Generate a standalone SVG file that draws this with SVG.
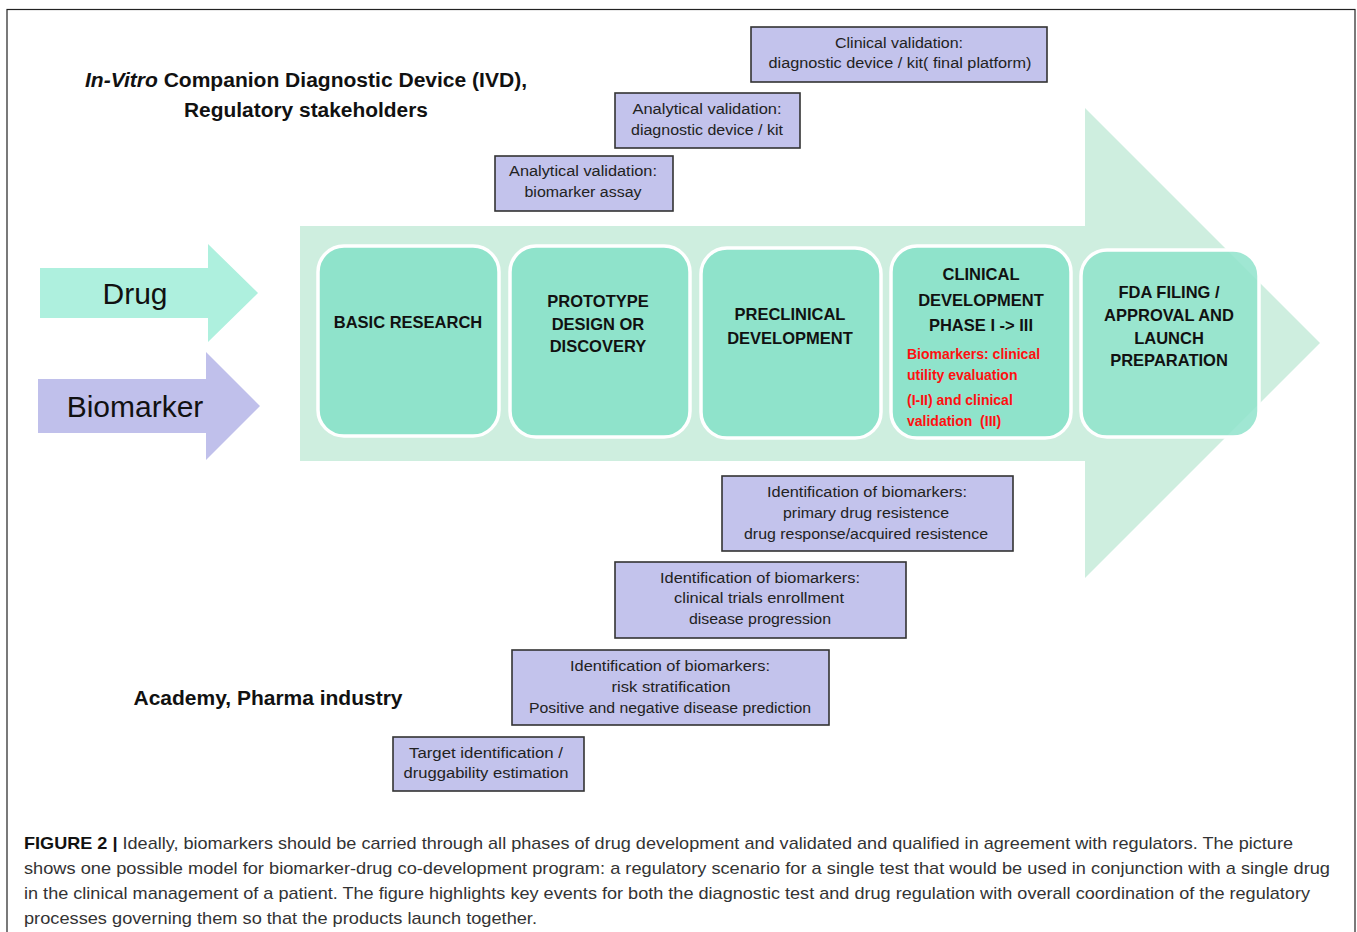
<svg xmlns="http://www.w3.org/2000/svg" width="1357" height="932" viewBox="0 0 1357 932">
<style>
.frame{fill:#fff;stroke:#222;stroke-width:1.2}
.stage{fill:#8fe3cb;stroke:#fff;stroke-width:3.5}
.pbox{fill:#c3c3ec;stroke:#333;stroke-width:1.6}
.pt{font-family:"Liberation Sans",Arial,sans-serif;font-size:14px;fill:#222;text-anchor:middle}
.st{font-family:"Liberation Sans",Arial,sans-serif;font-size:16.5px;font-weight:bold;fill:#111;text-anchor:middle}
.rt{font-family:"Liberation Sans",Arial,sans-serif;font-size:14px;font-weight:bold;fill:#ff1010}
.hd{font-family:"Liberation Sans",Arial,sans-serif;font-size:20px;font-weight:bold;fill:#111;text-anchor:middle}
.big{font-family:"Liberation Sans",Arial,sans-serif;font-size:30px;fill:#111;text-anchor:middle}
.cap{font-family:"Liberation Sans",Arial,sans-serif;font-size:17px;fill:#333}
</style>
<rect class="frame" x="7" y="9.5" width="1348" height="940"/>
<g id="connectors">
<path id="main-arrow" d="M300,226 H1085 V108 L1320,343 L1085,578 V461 H300 Z" fill="#ceeedf"/>
<path id="drug-arrow" d="M40,268 H208 V244 L258,293 L208,342 V318 H40 Z" fill="#aef0de"/>
<path id="biomarker-arrow" d="M38,379 H206 V352 L260,406 L206,460 V433 H38 Z" fill="#c0c0eb"/>
</g>
<g id="label-drug"><text class="big" x="135" y="304">Drug</text></g>
<g id="label-biomarker"><text class="big" x="135" y="417">Biomarker</text></g>
<g id="heading-ivd">
<text class="hd" x="306" y="87" textLength="442" lengthAdjust="spacingAndGlyphs"><tspan font-style="italic">In-Vitro</tspan> Companion Diagnostic Device (IVD),</text>
<text class="hd" x="306" y="117" textLength="244" lengthAdjust="spacingAndGlyphs">Regulatory stakeholders</text>
</g>
<g id="heading-academy">
<text class="hd" x="268" y="705" textLength="269" lengthAdjust="spacingAndGlyphs">Academy, Pharma industry</text>
</g>
<g id="stage-basic">
<rect class="stage" x="318" y="246" width="181" height="190" rx="26"/>
<text class="st" x="408" y="328">BASIC RESEARCH</text>
</g>
<g id="stage-prototype">
<rect class="stage" x="510" y="246" width="180" height="191" rx="26"/>
<text class="st" x="598" y="307">PROTOTYPE</text>
<text class="st" x="598" y="330">DESIGN OR</text>
<text class="st" x="598" y="352">DISCOVERY</text>
</g>
<g id="stage-preclinical">
<rect class="stage" x="701" y="248" width="180" height="190" rx="26"/>
<text class="st" x="790" y="320">PRECLINICAL</text>
<text class="st" x="790" y="344">DEVELOPMENT</text>
</g>
<g id="stage-clinical">
<rect class="stage" x="891" y="246" width="180" height="192" rx="26"/>
<text class="st" x="981" y="280">CLINICAL</text>
<text class="st" x="981" y="306">DEVELOPMENT</text>
<text class="st" x="981" y="331">PHASE I -&gt; III</text>
<text class="rt" x="907" y="359">Biomarkers: clinical</text>
<text class="rt" x="907" y="380">utility evaluation</text>
<text class="rt" x="907" y="405">(I-II) and clinical</text>
<text class="rt" x="907" y="426" xml:space="preserve">validation  (III)</text>
</g>
<g id="stage-fda">
<rect class="stage" x="1081" y="250" width="178" height="187" rx="26" fill-opacity="0.85"/>
<text class="st" x="1169" y="298">FDA FILING /</text>
<text class="st" x="1169" y="321">APPROVAL AND</text>
<text class="st" x="1169" y="344">LAUNCH</text>
<text class="st" x="1169" y="366">PREPARATION</text>
</g>
<g id="box-clinical-validation">
<rect class="pbox" x="751" y="27" width="296" height="55"/>
<text class="pt" x="899" y="48" textLength="128" lengthAdjust="spacingAndGlyphs">Clinical validation:</text>
<text class="pt" x="900" y="68" textLength="263" lengthAdjust="spacingAndGlyphs">diagnostic device / kit( final platform)</text>
</g>
<g id="box-analytical-device">
<rect class="pbox" x="615" y="93" width="185" height="55"/>
<text class="pt" x="707" y="114" textLength="149" lengthAdjust="spacingAndGlyphs">Analytical validation:</text>
<text class="pt" x="707" y="135" textLength="152" lengthAdjust="spacingAndGlyphs">diagnostic device / kit</text>
</g>
<g id="box-analytical-assay">
<rect class="pbox" x="495" y="156" width="178" height="55"/>
<text class="pt" x="583" y="176" textLength="148" lengthAdjust="spacingAndGlyphs">Analytical validation:</text>
<text class="pt" x="583" y="197" textLength="117" lengthAdjust="spacingAndGlyphs">biomarker assay</text>
</g>
<g id="box-ident-resistance">
<rect class="pbox" x="722" y="476" width="291" height="75"/>
<text class="pt" x="867" y="497" textLength="200" lengthAdjust="spacingAndGlyphs">Identification of biomarkers:</text>
<text class="pt" x="866" y="518" textLength="166" lengthAdjust="spacingAndGlyphs">primary drug resistence</text>
<text class="pt" x="866" y="539" textLength="244" lengthAdjust="spacingAndGlyphs">drug response/acquired resistence</text>
</g>
<g id="box-ident-enrollment">
<rect class="pbox" x="615" y="562" width="291" height="76"/>
<text class="pt" x="760" y="583" textLength="200" lengthAdjust="spacingAndGlyphs">Identification of biomarkers:</text>
<text class="pt" x="759" y="603" textLength="170" lengthAdjust="spacingAndGlyphs">clinical trials enrollment</text>
<text class="pt" x="760" y="624" textLength="142" lengthAdjust="spacingAndGlyphs">disease progression</text>
</g>
<g id="box-ident-risk">
<rect class="pbox" x="512" y="650" width="317" height="75"/>
<text class="pt" x="670" y="671" textLength="200" lengthAdjust="spacingAndGlyphs">Identification of biomarkers:</text>
<text class="pt" x="671" y="692" textLength="119" lengthAdjust="spacingAndGlyphs">risk stratification</text>
<text class="pt" x="670" y="713" textLength="282" lengthAdjust="spacingAndGlyphs">Positive and negative disease prediction</text>
</g>
<g id="box-target">
<rect class="pbox" x="393" y="737" width="191" height="54"/>
<text class="pt" x="486" y="758" textLength="154" lengthAdjust="spacingAndGlyphs">Target identification /</text>
<text class="pt" x="486" y="778" textLength="165" lengthAdjust="spacingAndGlyphs">druggability estimation</text>
</g>
<g id="caption">
<text class="cap" x="24" y="849" textLength="1269" lengthAdjust="spacingAndGlyphs"><tspan font-weight="bold" fill="#111">FIGURE 2 |</tspan> Ideally, biomarkers should be carried through all phases of drug development and validated and qualified in agreement with regulators. The picture</text>
<text class="cap" x="24" y="874" textLength="1306" lengthAdjust="spacingAndGlyphs">shows one possible model for biomarker-drug co-development program: a regulatory scenario for a single test that would be used in conjunction with a single drug</text>
<text class="cap" x="24" y="899" textLength="1286" lengthAdjust="spacingAndGlyphs">in the clinical management of a patient. The figure highlights key events for both the diagnostic test and drug regulation with overall coordination of the regulatory</text>
<text class="cap" x="24" y="924" textLength="513" lengthAdjust="spacingAndGlyphs">processes governing them so that the products launch together.</text>
</g>
</svg>
